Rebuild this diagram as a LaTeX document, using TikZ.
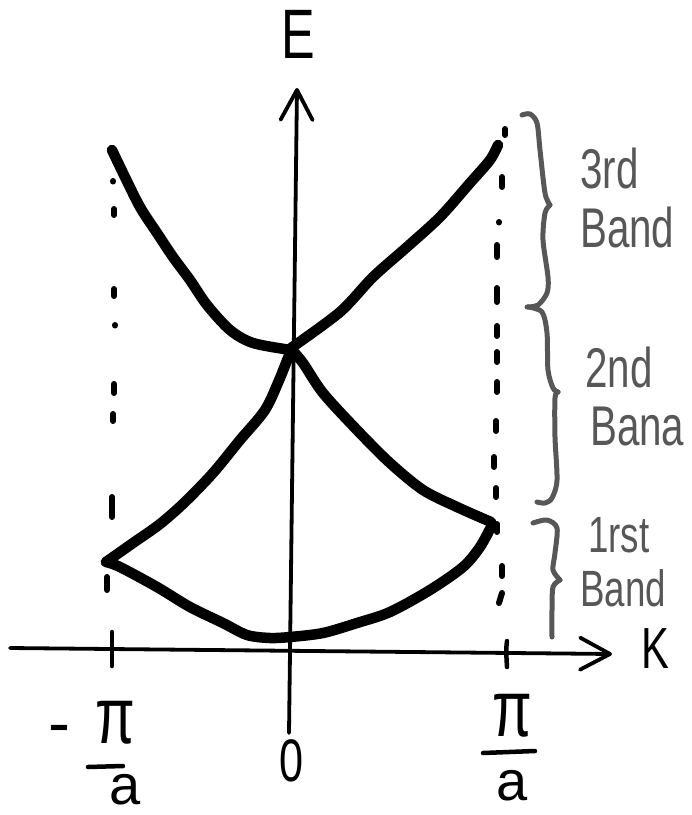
\documentclass[tikz,border=0pt]{standalone}
\usepackage{fontspec}
\usetikzlibrary{arrows.meta}
\newfontfamily\hand[FakeStretch=0.72]{Liberation Sans}
\newfontfamily\handw{Liberation Sans}
\definecolor{handgray}{HTML}{575757}
\tikzset{
  band/.style={line width=10.5pt, line cap=round, line join=round},
  axisline/.style={line width=3.8pt, line cap=round, -{Straight Barb[length=30pt,width=32pt,round]}},
  dotmark/.style={line width=6pt, line cap=round},
  tickline/.style={line width=4.5pt, line cap=round},
  bracepath/.style={draw=handgray, line width=5pt, line cap=round, line join=round},
  lbl/.style={font=\hand\fontsize{56}{56}\selectfont, text=handgray, inner sep=0pt, anchor=base west},
  axlbl/.style={inner sep=0pt, anchor=base},
}
\begin{document}
\begin{tikzpicture}[x=1pt,y=-1pt]
\path[use as bounding box] (0,0) rectangle (692,815);

% axes
\coordinate (xl) at (10,648);
\coordinate (xr) at (612,654);
\coordinate (yb) at (289,733);
\coordinate (yt) at (297,88);
\draw[axisline] (xl) -- (xr);
\draw[axisline] (yb) -- (yt);

% ticks
\draw[tickline] (112,632) -- (112,666);
\draw[tickline] (507,641) .. controls (506,650) .. (507,667);

% dotted lines, left
\foreach \a/\b in {113/181, 115/325}
  \draw[dotmark] (\a,\b) -- (\a,\b+0.5);
\foreach \a/\b/\c in {114/209/215, 114/289/296, 114/384/393, 113/414/421, 112/497/517, 107/577/590}
  \draw[dotmark] (\a,\b) -- (\a,\c);

% dotted lines, right
\draw[dotmark] (499,222) -- (499,222.5);
\foreach \a/\b/\c in {505/129/135, 502/177/187, 497/245/257, 497/288/302, 497/326/336, 497/352/362,
                      497/382/392, 496/421/431, 494/457/467, 496/488/497, 497/524/532, 502/566/576}
  \draw[dotmark] (\a,\b) -- (\a,\c);
\draw[dotmark] (502,593) -- (499,603);

% bands
\draw[band] plot[smooth, tension=0.5] coordinates {(112,150) (123,173) (140,207) (157,233) (173,257) (190,280) (207,305) (230,330) (253,343) (291,350)};
\draw[band] plot[smooth, tension=0.5] coordinates {(291,348) (340,312) (373,277) (407,247) (440,217) (470,183) (490,160) (498,145)};
\draw[band] plot[smooth, tension=0.5] coordinates {(291,350) (280,378) (265,410) (240,440) (213,473) (185,502) (160,524) (133,543) (106,562)};
\draw[band] plot[smooth, tension=0.5] coordinates {(292,350) (303,363) (323,393) (357,430) (390,463) (423,490) (457,507) (491,522)};
\draw[band] plot[smooth, tension=0.5] coordinates {(106,562) (120,567) (157,587) (190,607) (223,623) (247,635) (270,638) (290,637) (323,633) (357,623) (390,612) (430,590) (463,567) (480,547) (492,525)};

% braces
\draw[bracepath] plot[smooth, tension=0.5] coordinates {(522,115) (530,114) (537,123) (540,150) (545,193) (550,205)};
\draw[bracepath] plot[smooth, tension=0.5] coordinates {(550,205) (545,213) (543,240) (548,277) (547,293) (538,305) (527,307)};
\draw[bracepath] plot[smooth, tension=0.5] coordinates {(528,307) (542,312) (547,333) (548,370) (553,388) (558,392)};
\draw[bracepath] plot[smooth, tension=0.5] coordinates {(558,392) (555,398) (555,437) (557,480) (552,498) (545,503) (537,502)};
\draw[bracepath] plot[smooth, tension=0.5] coordinates {(533,523) (547,520) (557,528) (555,553) (553,570) (560,580)};
\draw[bracepath] plot[smooth, tension=0.5] coordinates {(560,580) (553,587) (552,610) (552,637)};

% band labels
\node[lbl] (l3a) at (580,188) {3rd};
\node[lbl] (l3b) at (580,247) {Band};
\node[lbl] (l2a) at (585,387) {2nd};
\node[lbl] (l2b) at (590,445) {Bana};
\node[lbl, anchor=north west, align=left, font=\hand\fontsize{51}{54}\selectfont] (l1) at (580,517) {\hspace{8pt}1rst\\Band};

% axis labels
\node[axlbl, font=\hand\fontsize{70}{70}\selectfont] (E) at (298,58) {E};
\node[axlbl, font=\hand\fontsize{58}{58}\selectfont] (K) at (655,668) {K};
\node[axlbl, font=\hand\fontsize{60}{60}\selectfont] (zero) at (292,781) {0};

% -pi/a
\node[axlbl, font=\handw\fontsize{66}{66}\selectfont] (minus) at (59,745) {-};
\node[axlbl, font=\hand\fontsize{80}{80}\selectfont] (piL) at (115,743) {π};
\draw[tickline] (88,767) -- (123,766);
\node[axlbl, font=\handw\fontsize{56}{56}\selectfont] (aL) at (125,804) {a};

% pi/a
\node[axlbl, font=\hand\fontsize{80}{80}\selectfont] (piR) at (512,736) {π};
\draw[tickline] (483,753) -- (535,751);
\node[axlbl, font=\handw\fontsize{56}{56}\selectfont] (aR) at (512,800) {a};
\end{tikzpicture}
\end{document}
